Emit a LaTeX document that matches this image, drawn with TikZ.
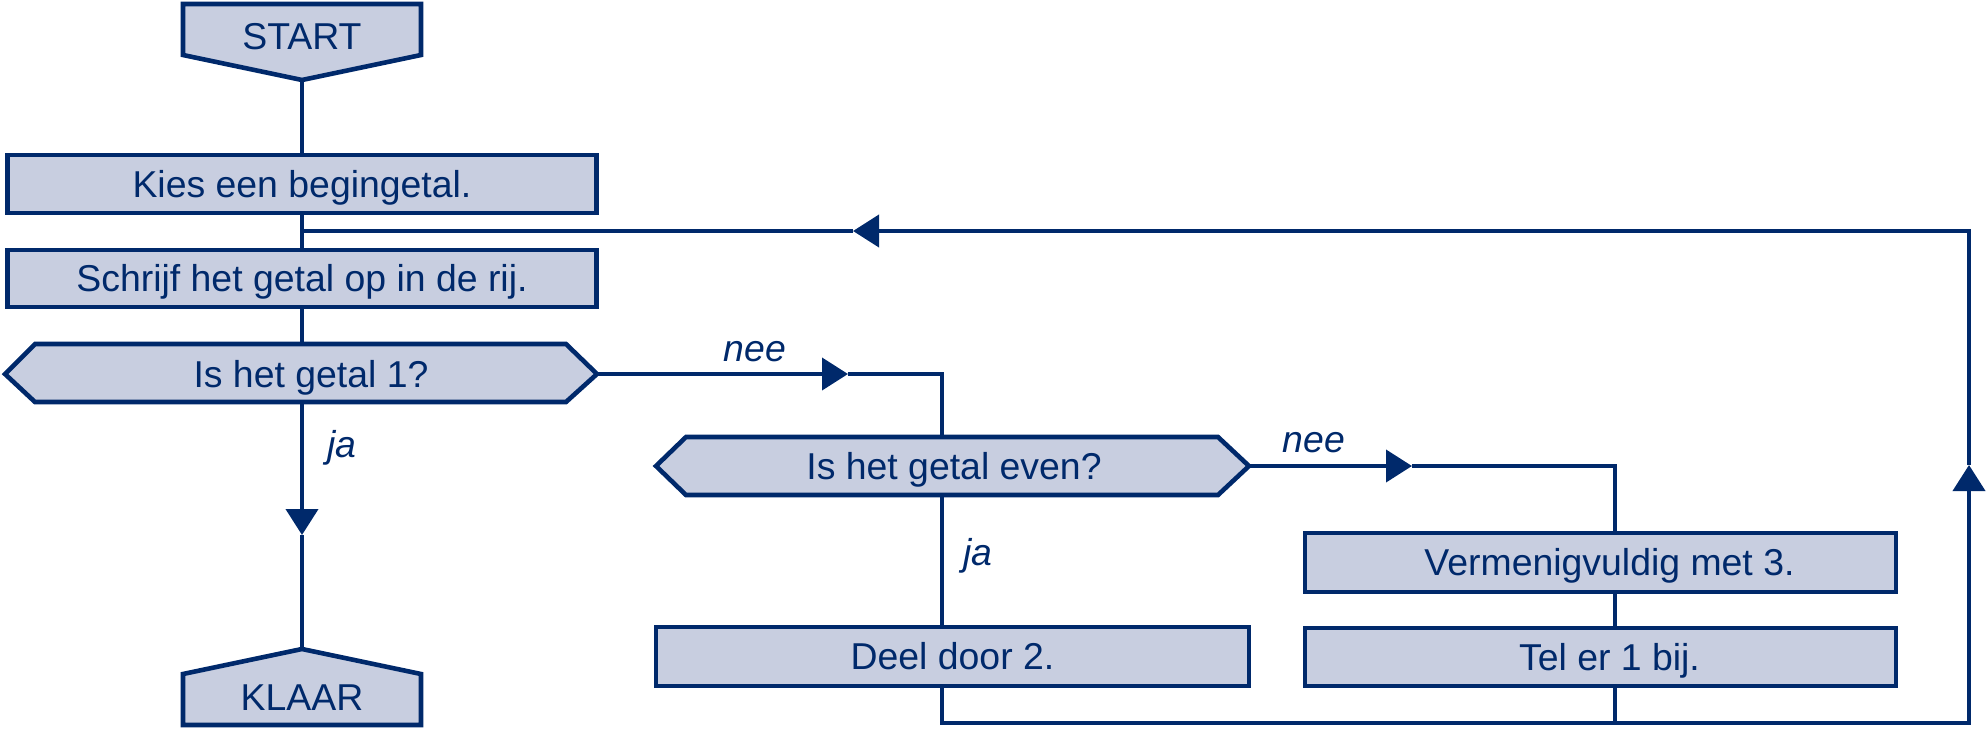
\documentclass[tikz,border=0pt]{standalone}
\usepackage{fontspec}
\setmainfont{Liberation Sans}
\usetikzlibrary{arrows.meta}
\definecolor{navy}{RGB}{0,41,107}
\definecolor{boxfill}{RGB}{200,206,224}
\begin{document}
\begin{tikzpicture}[x=0.5pt,y=-0.5pt,
  shp/.style={draw=navy,fill=boxfill,line width=2.3pt,line join=miter},
  txt/.style={text=navy,inner sep=0pt,font=\fontsize{18.7pt}{22pt}\selectfont,text height=13.4pt,text depth=0pt},
  box/.style={shp,txt,rectangle},
  lbl/.style={text=navy,inner sep=0pt,font=\fontsize{18.7pt}{22pt}\selectfont\itshape,anchor=base},
  con/.style={draw=navy,line width=2pt,line join=miter},
  arr/.style={con,-{Triangle[length=13pt,width=16pt]}}
]
\useasboundingbox (0,0) rectangle (1987,729);
% START
\path[shp] (183,4) -- (421,4) -- (421,55) -- (302,80) -- (183,55) -- cycle;
\node[txt] (start) at (302,36.5) {START};
\coordinate (startp) at (302,80);
% process boxes
\node[box,minimum width=294.5pt,minimum height=29pt] (kies) at (302,184) {Kies een begingetal.};
\node[box,minimum width=294.5pt,minimum height=28.5pt] (schrijf) at (302,278.5) {Schrijf het getal op in de rij.};
% decision 1
\path[shp] (5,374) -- (35,344) -- (566,344) -- (597,374) -- (566,402) -- (35,402) -- cycle;
\node[txt] (d1) at (311,374) {Is het getal 1?};
\coordinate (d1n) at (302,344);
\coordinate (d1s) at (302,402);
\coordinate (d1e) at (597,374);
% KLAAR
\path[shp] (183,674) -- (302,649) -- (421,674) -- (421,725) -- (183,725) -- cycle;
\node[txt] (klaar) at (302,697) {KLAAR};
\coordinate (klaarp) at (302,649);
% decision 2
\path[shp] (656,466) -- (686,437) -- (1218,437) -- (1249,466) -- (1218,495) -- (686,495) -- cycle;
\node[txt] (d2) at (954,466) {Is het getal even?};
\coordinate (d2n) at (942,437);
\coordinate (d2s) at (942,495);
\coordinate (d2e) at (1249,466);
% lower boxes
\node[box,minimum width=296.5pt,minimum height=29.5pt] (deel) at (952.5,656.5) {Deel door 2.};
\node[box,minimum width=295.5pt,minimum height=29.5pt] (verm) at (1600.5,562.5) {\hspace*{9pt}Vermenigvuldig met 3.};
\node[box,minimum width=295.5pt,minimum height=29pt] (tel) at (1600.5,657) {\hspace*{9pt}Tel er 1 bij.};
% helper coordinates
\coordinate (a1) at (302,535);
\coordinate (a2) at (848,374);
\coordinate (k1) at (942,374);
\coordinate (a3) at (1412,466);
\coordinate (k2) at (1615,466);
\coordinate (bl) at (942,723);
\coordinate (br) at (1969,723);
\coordinate (a4) at (1969,465);
\coordinate (tr) at (1969,231);
\coordinate (a5) at (853,231);
\coordinate (jn) at (302,231);
% connectors
\draw[con] (startp) -- (kies.north);
\draw[con] (kies.south) -- (schrijf.north);
\draw[con] (schrijf.south) -- (d1n);
\draw[arr] (d1s) -- (a1);
\draw[con] (a1) -- (klaarp);
\draw[arr] (d1e) -- (a2);
\draw[con] (a2) -- (k1) -- (d2n);
\draw[con] (d2s) -- (d2s |- deel.north);
\draw[arr] (d2e) -- (a3);
\draw[con] (a3) -- (k2) -- (k2 |- verm.north);
\draw[con] (k2 |- verm.south) -- (k2 |- tel.north);
\draw[con] (k2 |- tel.south) -- (k2 |- bl);
\draw[arr] (d2s |- deel.south) -- (bl) -- (br) -- (a4);
\draw[arr] (a4) -- (tr) -- (a5);
\draw[con] (a5) -- (jn);
% labels
\node[lbl] (ja1) at (342,457) {ja};
\node[lbl] (nee1) at (755,361) {nee};
\node[lbl] (ja2) at (978,565) {ja};
\node[lbl] (nee2) at (1314,452) {nee};
\end{tikzpicture}
\end{document}
